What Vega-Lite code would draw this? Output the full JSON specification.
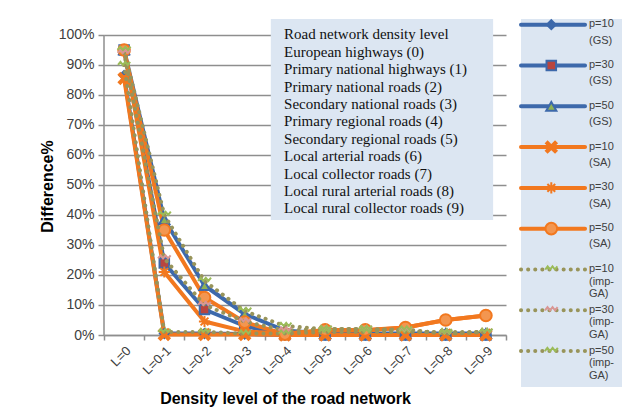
{
  "$schema": "https://vega.github.io/schema/vega-lite/v6.json",
  "padding": {"left": 39, "top": 16, "right": 5, "bottom": 5},
  "background": "white",
  "config": {
    "font": "Liberation Sans",
    "axis": {"labelColor": "#404040", "titleColor": "#000000", "labelFontSize": 14, "gridColor": "#8e8e8e", "domainColor": "#8e8e8e", "tickColor": "#8e8e8e"},
    "axisY": {"values": [0, 0.1, 0.2, 0.3, 0.4, 0.5, 0.6, 0.7, 0.8, 0.9, 1]},
    "concat": {"spacing": 12}
  },
  "datasets": {
    "main": [
      {"series": "p=10 (GS)", "method": "GS", "level": "L=0", "value": 0.865},
      {"series": "p=10 (GS)", "method": "GS", "level": "L=0-1", "value": 0.005},
      {"series": "p=10 (GS)", "method": "GS", "level": "L=0-2", "value": 0.005},
      {"series": "p=10 (GS)", "method": "GS", "level": "L=0-3", "value": 0.003},
      {"series": "p=10 (GS)", "method": "GS", "level": "L=0-4", "value": 0},
      {"series": "p=10 (GS)", "method": "GS", "level": "L=0-5", "value": 0},
      {"series": "p=10 (GS)", "method": "GS", "level": "L=0-6", "value": 0},
      {"series": "p=10 (GS)", "method": "GS", "level": "L=0-7", "value": 0},
      {"series": "p=10 (GS)", "method": "GS", "level": "L=0-8", "value": 0},
      {"series": "p=10 (GS)", "method": "GS", "level": "L=0-9", "value": 0},
      {"series": "p=30 (GS)", "method": "GS", "level": "L=0", "value": 0.95},
      {"series": "p=30 (GS)", "method": "GS", "level": "L=0-1", "value": 0.24},
      {"series": "p=30 (GS)", "method": "GS", "level": "L=0-2", "value": 0.085},
      {"series": "p=30 (GS)", "method": "GS", "level": "L=0-3", "value": 0.03},
      {"series": "p=30 (GS)", "method": "GS", "level": "L=0-4", "value": 0.002},
      {"series": "p=30 (GS)", "method": "GS", "level": "L=0-5", "value": 0},
      {"series": "p=30 (GS)", "method": "GS", "level": "L=0-6", "value": 0},
      {"series": "p=30 (GS)", "method": "GS", "level": "L=0-7", "value": 0},
      {"series": "p=30 (GS)", "method": "GS", "level": "L=0-8", "value": 0},
      {"series": "p=30 (GS)", "method": "GS", "level": "L=0-9", "value": 0},
      {"series": "p=50 (GS)", "method": "GS", "level": "L=0", "value": 0.95},
      {"series": "p=50 (GS)", "method": "GS", "level": "L=0-1", "value": 0.385},
      {"series": "p=50 (GS)", "method": "GS", "level": "L=0-2", "value": 0.165},
      {"series": "p=50 (GS)", "method": "GS", "level": "L=0-3", "value": 0.07},
      {"series": "p=50 (GS)", "method": "GS", "level": "L=0-4", "value": 0.015},
      {"series": "p=50 (GS)", "method": "GS", "level": "L=0-5", "value": 0.005},
      {"series": "p=50 (GS)", "method": "GS", "level": "L=0-6", "value": 0.005},
      {"series": "p=50 (GS)", "method": "GS", "level": "L=0-7", "value": 0.005},
      {"series": "p=50 (GS)", "method": "GS", "level": "L=0-8", "value": 0.005},
      {"series": "p=50 (GS)", "method": "GS", "level": "L=0-9", "value": 0.005},
      {"series": "p=10 (SA)", "method": "SA", "level": "L=0", "value": 0.855},
      {"series": "p=10 (SA)", "method": "SA", "level": "L=0-1", "value": 0.002},
      {"series": "p=10 (SA)", "method": "SA", "level": "L=0-2", "value": 0.002},
      {"series": "p=10 (SA)", "method": "SA", "level": "L=0-3", "value": 0.002},
      {"series": "p=10 (SA)", "method": "SA", "level": "L=0-4", "value": 0},
      {"series": "p=10 (SA)", "method": "SA", "level": "L=0-5", "value": 0},
      {"series": "p=10 (SA)", "method": "SA", "level": "L=0-6", "value": 0},
      {"series": "p=10 (SA)", "method": "SA", "level": "L=0-7", "value": 0},
      {"series": "p=10 (SA)", "method": "SA", "level": "L=0-8", "value": 0},
      {"series": "p=10 (SA)", "method": "SA", "level": "L=0-9", "value": 0},
      {"series": "p=30 (SA)", "method": "SA", "level": "L=0", "value": 0.95},
      {"series": "p=30 (SA)", "method": "SA", "level": "L=0-1", "value": 0.21},
      {"series": "p=30 (SA)", "method": "SA", "level": "L=0-2", "value": 0.045},
      {"series": "p=30 (SA)", "method": "SA", "level": "L=0-3", "value": 0.012},
      {"series": "p=30 (SA)", "method": "SA", "level": "L=0-4", "value": 0.005},
      {"series": "p=30 (SA)", "method": "SA", "level": "L=0-5", "value": 0.015},
      {"series": "p=30 (SA)", "method": "SA", "level": "L=0-6", "value": 0.015},
      {"series": "p=30 (SA)", "method": "SA", "level": "L=0-7", "value": 0.025},
      {"series": "p=30 (SA)", "method": "SA", "level": "L=0-8", "value": 0.05},
      {"series": "p=30 (SA)", "method": "SA", "level": "L=0-9", "value": 0.065},
      {"series": "p=50 (SA)", "method": "SA", "level": "L=0", "value": 0.95},
      {"series": "p=50 (SA)", "method": "SA", "level": "L=0-1", "value": 0.35},
      {"series": "p=50 (SA)", "method": "SA", "level": "L=0-2", "value": 0.125},
      {"series": "p=50 (SA)", "method": "SA", "level": "L=0-3", "value": 0.043},
      {"series": "p=50 (SA)", "method": "SA", "level": "L=0-4", "value": 0.003},
      {"series": "p=50 (SA)", "method": "SA", "level": "L=0-5", "value": 0.017},
      {"series": "p=50 (SA)", "method": "SA", "level": "L=0-6", "value": 0.017},
      {"series": "p=50 (SA)", "method": "SA", "level": "L=0-7", "value": 0.025},
      {"series": "p=50 (SA)", "method": "SA", "level": "L=0-8", "value": 0.05},
      {"series": "p=50 (SA)", "method": "SA", "level": "L=0-9", "value": 0.065},
      {"series": "p=10 (imp-GA)", "method": "imp-GA", "level": "L=0", "value": 0.9},
      {"series": "p=10 (imp-GA)", "method": "imp-GA", "level": "L=0-1", "value": 0.01},
      {"series": "p=10 (imp-GA)", "method": "imp-GA", "level": "L=0-2", "value": 0.01},
      {"series": "p=10 (imp-GA)", "method": "imp-GA", "level": "L=0-3", "value": 0.005},
      {"series": "p=10 (imp-GA)", "method": "imp-GA", "level": "L=0-4", "value": 0.005},
      {"series": "p=10 (imp-GA)", "method": "imp-GA", "level": "L=0-5", "value": 0.01},
      {"series": "p=10 (imp-GA)", "method": "imp-GA", "level": "L=0-6", "value": 0.01},
      {"series": "p=10 (imp-GA)", "method": "imp-GA", "level": "L=0-7", "value": 0.01},
      {"series": "p=10 (imp-GA)", "method": "imp-GA", "level": "L=0-8", "value": 0.01},
      {"series": "p=10 (imp-GA)", "method": "imp-GA", "level": "L=0-9", "value": 0.01},
      {"series": "p=30 (imp-GA)", "method": "imp-GA", "level": "L=0", "value": 0.94},
      {"series": "p=30 (imp-GA)", "method": "imp-GA", "level": "L=0-1", "value": 0.255},
      {"series": "p=30 (imp-GA)", "method": "imp-GA", "level": "L=0-2", "value": 0.1},
      {"series": "p=30 (imp-GA)", "method": "imp-GA", "level": "L=0-3", "value": 0.045},
      {"series": "p=30 (imp-GA)", "method": "imp-GA", "level": "L=0-4", "value": 0.015},
      {"series": "p=30 (imp-GA)", "method": "imp-GA", "level": "L=0-5", "value": 0.02},
      {"series": "p=30 (imp-GA)", "method": "imp-GA", "level": "L=0-6", "value": 0.02},
      {"series": "p=30 (imp-GA)", "method": "imp-GA", "level": "L=0-7", "value": 0.015},
      {"series": "p=30 (imp-GA)", "method": "imp-GA", "level": "L=0-8", "value": 0.005},
      {"series": "p=30 (imp-GA)", "method": "imp-GA", "level": "L=0-9", "value": 0.01},
      {"series": "p=50 (imp-GA)", "method": "imp-GA", "level": "L=0", "value": 0.95},
      {"series": "p=50 (imp-GA)", "method": "imp-GA", "level": "L=0-1", "value": 0.4},
      {"series": "p=50 (imp-GA)", "method": "imp-GA", "level": "L=0-2", "value": 0.18},
      {"series": "p=50 (imp-GA)", "method": "imp-GA", "level": "L=0-3", "value": 0.08},
      {"series": "p=50 (imp-GA)", "method": "imp-GA", "level": "L=0-4", "value": 0.03},
      {"series": "p=50 (imp-GA)", "method": "imp-GA", "level": "L=0-5", "value": 0.02},
      {"series": "p=50 (imp-GA)", "method": "imp-GA", "level": "L=0-6", "value": 0.02},
      {"series": "p=50 (imp-GA)", "method": "imp-GA", "level": "L=0-7", "value": 0.018},
      {"series": "p=50 (imp-GA)", "method": "imp-GA", "level": "L=0-8", "value": 0.005},
      {"series": "p=50 (imp-GA)", "method": "imp-GA", "level": "L=0-9", "value": 0.01}
    ],
    "legend": [
      {"i": 0, "series": "p=10 (GS)", "method": "GS", "label": "p=10\n(GS)"},
      {"i": 1, "series": "p=30 (GS)", "method": "GS", "label": "p=30\n(GS)"},
      {"i": 2, "series": "p=50 (GS)", "method": "GS", "label": "p=50\n(GS)"},
      {"i": 3, "series": "p=10 (SA)", "method": "SA", "label": "p=10\n(SA)"},
      {"i": 4, "series": "p=30 (SA)", "method": "SA", "label": "p=30\n(SA)"},
      {"i": 5, "series": "p=50 (SA)", "method": "SA", "label": "p=50\n(SA)"},
      {"i": 6, "series": "p=10 (imp-GA)", "method": "imp-GA", "label": "p=10\n(imp-\nGA)"},
      {"i": 7, "series": "p=30 (imp-GA)", "method": "imp-GA", "label": "p=30\n(imp-\nGA)"},
      {"i": 8, "series": "p=50 (imp-GA)", "method": "imp-GA", "label": "p=50\n(imp-\nGA)"}
    ],
    "box": [
      {"label": "Road network density level\nEuropean highways (0)\nPrimary national highways (1)\nPrimary national roads (2)\nSecondary national roads (3)\nPrimary regional roads (4)\nSecondary regional roads (5)\nLocal arterial roads (6)\nLocal collector roads (7)\nLocal rural arterial roads (8)\nLocal rural collector roads (9)"}
    ]
  },
  "hconcat": [
    {
      "width": 402,
      "height": 316,
      "view": {"stroke": null},
      "layer": [
        {
          "data": {"name": "main"},
          "encoding": {
            "x": {
              "field": "level", "type": "nominal",
              "sort": ["L=0","L=0-1","L=0-2","L=0-3","L=0-4","L=0-5","L=0-6","L=0-7","L=0-8","L=0-9"],
              "scale": {"type": "band", "domain": ["L=0","L=0-1","L=0-2","L=0-3","L=0-4","L=0-5","L=0-6","L=0-7","L=0-8","L=0-9"], "paddingInner": 0, "paddingOuter": 0},
              "axis": {
                "title": "Density level of the road network", "titleFontSize": 16, "titleFontWeight": "bold",
                "titleX": 181, "titleY": 63, "titleBaseline": "middle", "titleAlign": "center",
                "labelAngle": -45, "labelAlign": "right", "labelBaseline": "top", "labelPadding": 4, "labelFontSize": 13,
                "tickBand": "extent", "tickSize": 5, "domainWidth": 1.5, "tickWidth": 1.5, "grid": false
              }
            },
            "y": {
              "field": "value", "type": "quantitative",
              "scale": {"domain": [0, 1.0533], "nice": false, "zero": true},
              "axis": {
                "values": [0, 0.1, 0.2, 0.3, 0.4, 0.5, 0.6, 0.7, 0.8, 0.9, 1], "tickCount": 11,
                "format": ".0%", "grid": true, "gridWidth": 1.5, "domain": false, "tickSize": 6, "tickWidth": 1.5,
                "labelPadding": 4, "title": "Difference%", "titleFontSize": 16, "titleFontWeight": "bold",
                "titleX": -57, "titleY": 167, "titleBaseline": "middle", "titleAlign": "center", "titleAngle": -90
              }
            }
          },
          "layer": [
            {
              "transform": [{"filter": "datum.method != 'imp-GA'"}],
              "mark": {"type": "line", "strokeCap": "round", "strokeJoin": "round"},
              "encoding": {
                "detail": {"field": "series"},
                "color": {"field": "method", "type": "nominal", "scale": {"domain": ["GS", "SA", "imp-GA"], "range": ["#3d69ab", "#f2781f", "#98945a"]}, "legend": null},
                "strokeWidth": {"field": "method", "type": "nominal", "scale": {"domain": ["GS", "SA", "imp-GA"], "range": [4, 4, 3.5]}, "legend": null}
              }
            },
            {
              "transform": [{"filter": "datum.method != 'imp-GA'"}],
              "mark": {"type": "point", "filled": false, "opacity": 1, "strokeWidth": 2},
              "encoding": {
                "shape": {"field": "series", "type": "nominal", "legend": null, "scale": {
                  "domain": ["p=10 (GS)","p=30 (GS)","p=50 (GS)","p=10 (SA)","p=30 (SA)","p=50 (SA)","p=10 (imp-GA)","p=30 (imp-GA)","p=50 (imp-GA)"],
                  "range": ["diamond","square","triangle-up","M-1,-0.7L-0.7,-1L0,-0.3L0.7,-1L1,-0.7L0.3,0L1,0.7L0.7,1L0,0.3L-0.7,1L-1,0.7L-0.3,0Z","M-1,0L1,0M0,-1L0,1M-0.7,-0.7L0.7,0.7M-0.7,0.7L0.7,-0.7","circle","M-1,0L-0.6,-0.5L-0.2,0L0.2,-0.5L0.6,0L1,-0.5","M-1,0L-0.6,-0.5L-0.2,0L0.2,-0.5L0.6,0L1,-0.5","M-1,0L-0.6,-0.5L-0.2,0L0.2,-0.5L0.6,0L1,-0.5"]}},
                "fill": {"field": "series", "type": "nominal", "legend": null, "scale": {
                  "domain": ["p=10 (GS)","p=30 (GS)","p=50 (GS)","p=10 (SA)","p=30 (SA)","p=50 (SA)","p=10 (imp-GA)","p=30 (imp-GA)","p=50 (imp-GA)"],
                  "range": ["#3d69ab","#b8453f","#8fb255","#f2781f","transparent","#f39650","transparent","transparent","transparent"]}},
                "stroke": {"field": "series", "type": "nominal", "legend": null, "scale": {
                  "domain": ["p=10 (GS)","p=30 (GS)","p=50 (GS)","p=10 (SA)","p=30 (SA)","p=50 (SA)","p=10 (imp-GA)","p=30 (imp-GA)","p=50 (imp-GA)"],
                  "range": ["#3d69ab","#3d69ab","#3d69ab","#f2781f","#f2781f","#f2781f","#9bbb59","#d99694","#9bbb59"]}},
                "size": {"field": "series", "type": "nominal", "legend": null, "scale": {
                  "domain": ["p=10 (GS)","p=30 (GS)","p=50 (GS)","p=10 (SA)","p=30 (SA)","p=50 (SA)","p=10 (imp-GA)","p=30 (imp-GA)","p=50 (imp-GA)"],
                  "range": [80, 170, 110, 110, 150, 200, 110, 110, 110]}}
              }
            },
            {
              "transform": [{"filter": "datum.method == 'imp-GA'"}],
              "mark": {"type": "line", "strokeCap": "round", "strokeJoin": "round", "strokeDash": [0.1, 7]},
              "encoding": {
                "detail": {"field": "series"},
                "color": {"field": "method", "type": "nominal", "scale": {"domain": ["GS", "SA", "imp-GA"], "range": ["#3d69ab", "#f2781f", "#98945a"]}, "legend": null},
                "strokeWidth": {"field": "method", "type": "nominal", "scale": {"domain": ["GS", "SA", "imp-GA"], "range": [4, 4, 3.5]}, "legend": null}
              }
            },
            {
              "transform": [{"filter": "datum.method == 'imp-GA'"}],
              "mark": {"type": "point", "filled": false, "opacity": 1, "strokeWidth": 2},
              "encoding": {
                "shape": {"field": "series", "type": "nominal", "legend": null},
                "fill": {"field": "series", "type": "nominal", "legend": null},
                "stroke": {"field": "series", "type": "nominal", "legend": null},
                "size": {"field": "series", "type": "nominal", "legend": null}
              }
            }
          ]
        },
        {
          "data": {"name": "box"},
          "layer": [
            {
              "mark": {"type": "rect", "fill": "#dce6f2"},
              "encoding": {
                "x": {"datum": 3.65, "type": "quantitative", "scale": {"domain": [-0.5, 9.5], "nice": false, "zero": false}, "axis": null},
                "x2": {"datum": 9.18},
                "y": {"datum": 1.0533, "type": "quantitative", "axis": {"values": [0, 0.1, 0.2, 0.3, 0.4, 0.5, 0.6, 0.7, 0.8, 0.9, 1], "tickCount": 11}},
                "y2": {"datum": 0.383}
              }
            },
            {
              "mark": {"type": "text", "font": "Liberation Serif", "fontSize": 15, "lineBreak": "\n", "lineHeight": 17.4, "align": "left", "baseline": "top", "color": "#111111"},
              "encoding": {
                "x": {"datum": 3.98, "type": "quantitative"},
                "y": {"datum": 1.025, "type": "quantitative"},
                "text": {"field": "label"}
              }
            },
            {
              "mark": {"type": "rule", "color": "#8e8e8e", "strokeWidth": 1.5},
              "encoding": {
                "x": {"datum": -0.5, "type": "quantitative"},
                "y": {"datum": 0, "type": "quantitative"},
                "y2": {"datum": 1}
              }
            }
          ]
        }
      ],
      "resolve": {"scale": {"x": "independent"}}
    },
    {
      "width": 101,
      "height": 368,
      "view": {"fill": "#dce6f2", "stroke": null},
      "data": {"name": "legend"},
      "encoding": {
        "y": {"field": "i", "type": "quantitative", "scale": {"domain": [-0.14, 8.88], "reverse": true, "nice": false, "zero": false}, "axis": null}
      },
      "layer": [
        {
          "mark": {"type": "rule", "strokeCap": "round"},
          "encoding": {
            "x": {"datum": 0, "type": "quantitative", "scale": {"domain": [0, 1], "nice": false}, "axis": null},
            "x2": {"datum": 0.634},
            "color": {"field": "method", "type": "nominal", "scale": {"domain": ["GS", "SA", "imp-GA"], "range": ["#3d69ab", "#f2781f", "#98945a"]}, "legend": null},
            "strokeWidth": {"field": "method", "type": "nominal", "scale": {"domain": ["GS", "SA", "imp-GA"], "range": [4, 4, 3.5]}, "legend": null},
            "strokeDash": {"field": "method", "type": "nominal", "scale": {"domain": ["GS", "SA", "imp-GA"], "range": [[1, 0], [1, 0], [0.1, 7]]}, "legend": null}
          }
        },
        {
          "mark": {"type": "point", "filled": false, "opacity": 1, "strokeWidth": 2},
          "encoding": {
            "x": {"datum": 0.3, "type": "quantitative"},
            "shape": {"field": "series", "type": "nominal", "legend": null, "scale": {
              "domain": ["p=10 (GS)","p=30 (GS)","p=50 (GS)","p=10 (SA)","p=30 (SA)","p=50 (SA)","p=10 (imp-GA)","p=30 (imp-GA)","p=50 (imp-GA)"],
              "range": ["diamond","square","triangle-up","M-1,-0.7L-0.7,-1L0,-0.3L0.7,-1L1,-0.7L0.3,0L1,0.7L0.7,1L0,0.3L-0.7,1L-1,0.7L-0.3,0Z","M-1,0L1,0M0,-1L0,1M-0.7,-0.7L0.7,0.7M-0.7,0.7L0.7,-0.7","circle","M-1,0L-0.6,-0.5L-0.2,0L0.2,-0.5L0.6,0L1,-0.5","M-1,0L-0.6,-0.5L-0.2,0L0.2,-0.5L0.6,0L1,-0.5","M-1,0L-0.6,-0.5L-0.2,0L0.2,-0.5L0.6,0L1,-0.5"]}},
            "fill": {"field": "series", "type": "nominal", "legend": null, "scale": {
              "domain": ["p=10 (GS)","p=30 (GS)","p=50 (GS)","p=10 (SA)","p=30 (SA)","p=50 (SA)","p=10 (imp-GA)","p=30 (imp-GA)","p=50 (imp-GA)"],
              "range": ["#3d69ab","#b8453f","#8fb255","#f2781f","transparent","#f39650","transparent","transparent","transparent"]}},
            "stroke": {"field": "series", "type": "nominal", "legend": null, "scale": {
              "domain": ["p=10 (GS)","p=30 (GS)","p=50 (GS)","p=10 (SA)","p=30 (SA)","p=50 (SA)","p=10 (imp-GA)","p=30 (imp-GA)","p=50 (imp-GA)"],
              "range": ["#3d69ab","#3d69ab","#3d69ab","#f2781f","#f2781f","#f2781f","#9bbb59","#b0a070","#98945a"]}},
            "size": {"field": "series", "type": "nominal", "legend": null, "scale": {
              "domain": ["p=10 (GS)","p=30 (GS)","p=50 (GS)","p=10 (SA)","p=30 (SA)","p=50 (SA)","p=10 (imp-GA)","p=30 (imp-GA)","p=50 (imp-GA)"],
              "range": [60, 90, 70, 70, 90, 110, 70, 70, 70]}}
          }
        },
        {
          "transform": [{"filter": "datum.method != 'imp-GA'"}],
          "mark": {"type": "text", "fontSize": 11, "lineBreak": "\n", "lineHeight": 16.3, "align": "left", "baseline": "top", "dy": -6.5, "color": "#404040"},
          "encoding": {
            "x": {"datum": 0.673, "type": "quantitative"},
            "text": {"field": "label"}
          }
        },
        {
          "transform": [{"filter": "datum.method == 'imp-GA'"}],
          "mark": {"type": "text", "fontSize": 11, "lineBreak": "\n", "lineHeight": 12.6, "align": "left", "baseline": "top", "dy": -6.5, "color": "#404040"},
          "encoding": {
            "x": {"datum": 0.673, "type": "quantitative"},
            "text": {"field": "label"}
          }
        }
      ]
    }
  ]
}
